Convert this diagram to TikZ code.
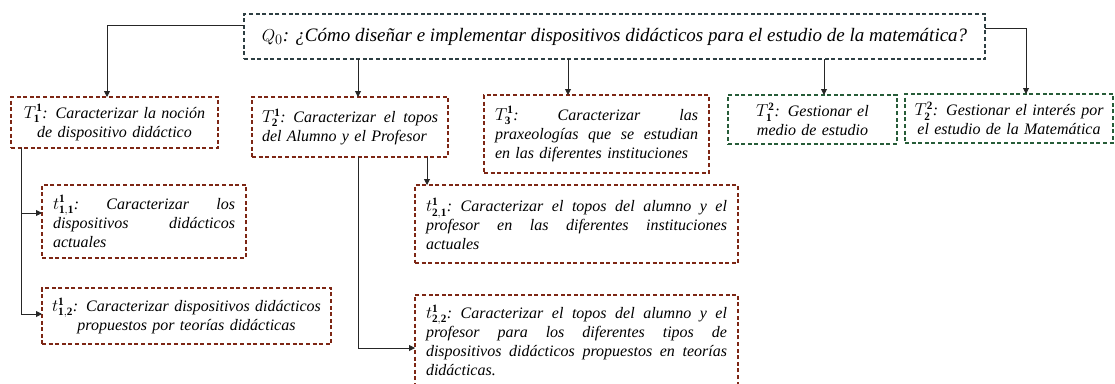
\documentclass[tikz,border=0pt]{standalone}
\usepackage{fontspec}
\setmainfont{Liberation Serif}
\usepackage{amsmath}
\usepackage{amssymb}
\usetikzlibrary{calc,arrows.meta}
\definecolor{qcolor}{RGB}{45,62,66}
\definecolor{tcolor}{RGB}{125,38,20}
\definecolor{gcolor}{RGB}{38,92,56}
\newcommand{\jl}[2]{\leavevmode\hbox to #1{\spaceskip=0.25em plus 1fil\xspaceskip=\spaceskip\relax #2}}

\begin{document}
\begin{tikzpicture}[x=1pt,y=-1pt,every node/.style={outer sep=0pt,inner sep=0pt,anchor=north west}]
\tikzstyle{box}=[line width=1.1pt,dash pattern=on 4pt off 2.6pt,font=\itshape\fontsize{16}{19}\selectfont]
\tikzstyle{qbox}=[box,draw=qcolor,font=\itshape\fontsize{19}{21}\selectfont]
\tikzstyle{redbox}=[box,draw=tcolor]
\tikzstyle{greenbox}=[box,draw=gcolor]
\tikzstyle{conn}=[line width=0.9pt,black!85,-{Triangle[length=6pt,width=6pt]}]

\useasboundingbox (0,0) rectangle (1115,383);

\node (q_node) at (244,14) [qbox,minimum width=741pt,minimum height=45pt] {$Q_0$: ¿Cómo diseñar e implementar dispositivos didácticos para el estudio de la matemática?};

\node (T11_node) at (11,97) [redbox,minimum width=207pt,minimum height=51pt,text width=187pt,align=center] {$T^{\mathbf{1}}_{\mathbf{1}}$: Caracterizar la noción\\ de dispositivo didáctico};
\node (T21_node) at (252,97) [redbox,minimum width=196pt,minimum height=60pt,text width=176pt,align=left] {\jl{176pt}{$T^{\mathbf{1}}_{\mathbf{2}}$: Caracterizar el topos}\\ del Alumno y el Profesor};
\node (T13_node) at (484,95) [redbox,minimum width=225pt,minimum height=78pt,text width=203pt,align=left] {\jl{203pt}{$T^{\mathbf{1}}_{\mathbf{3}}$: Caracterizar las}\\ \jl{203pt}{praxeologías que se estudian}\\ en las diferentes instituciones};
\node (T12_node) at (728,95) [greenbox,minimum width=169pt,minimum height=49pt,text width=150pt,align=center] {$T^{\mathbf{2}}_{\mathbf{1}}$: Gestionar el\\ medio de estudio};
\node (T22_node) at (905,94) [greenbox,minimum width=208pt,minimum height=49pt,text width=196pt,align=center] {$T^{\mathbf{2}}_{\mathbf{2}}$: Gestionar el interés por\\ el estudio de la Matemática};

\node (t11_node) at (42,185) [redbox,minimum width=204pt,minimum height=73pt,text width=182pt,align=left] {\jl{182pt}{$t^{\mathbf{1}}_{\mathbf{1,1}}$: Caracterizar los}\\ \jl{182pt}{dispositivos didácticos}\\ actuales};
\node (t12_node) at (42,288) [redbox,minimum width=289pt,minimum height=56pt,text width=275pt,align=center] {$t^{\mathbf{1}}_{\mathbf{1,2}}$: Caracterizar dispositivos didácticos\\ propuestos por teorías didácticas};
\node (t21_node) at (415,185) [redbox,minimum width=323pt,minimum height=78pt,text width=301pt,align=left] {\jl{301pt}{$t^{\mathbf{1}}_{\mathbf{2,1}}$: Caracterizar el topos del alumno y el}\\ \jl{301pt}{profesor en las diferentes instituciones}\\ actuales};
\node (t22_node) at (415,295) [redbox,minimum width=323pt,minimum height=91pt,text width=301pt,align=left] {\jl{301pt}{$t^{\mathbf{1}}_{\mathbf{2,2}}$: Caracterizar el topos del alumno y el}\\ \jl{301pt}{profesor para los diferentes tipos de}\\ \jl{301pt}{dispositivos didácticos propuestos en teorías}\\ didácticas.};

\coordinate (a21) at ([xshift=8pt]T21_node.north);
\coordinate (a13) at ([xshift=-28.5pt]T13_node.north);
\coordinate (a12) at ([xshift=11.5pt]T12_node.north);
\coordinate (b21) at ([xshift=12pt]t21_node.north west);

\draw [conn] ($(q_node.north west)!0.25!(q_node.south west)$) -| ([xshift=-7.5pt]T11_node.north);
\draw [conn] (q_node.south -| a21) -- (a21);
\draw [conn] (q_node.south -| a13) -- (a13);
\draw [conn] (q_node.south -| a12) -- (a12);
\draw [conn] ($(q_node.north east)!0.31!(q_node.south east)$) -| ([xshift=17pt]T22_node.north);
\draw [conn] ([xshift=10pt]T11_node.south west) |- ([yshift=8.5pt]t11_node.west);
\draw [conn] ([xshift=10pt]T11_node.south west) |- ([yshift=2pt]t12_node.west);
\draw [conn] (T21_node.south -| b21) -- (b21);
\draw [conn] ([xshift=8pt]T21_node.south) |- ([yshift=-7.5pt]t22_node.west);

\end{tikzpicture}
\end{document}
